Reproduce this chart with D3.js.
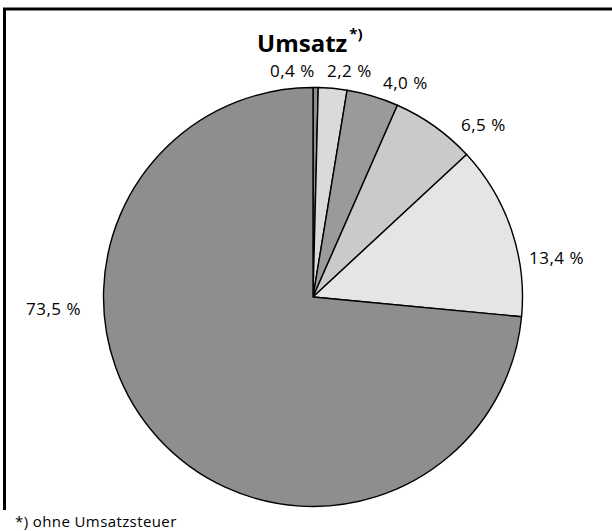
<!DOCTYPE html>
<html>
<head>
<meta charset="utf-8">
<script src="https://cdn.jsdelivr.net/npm/d3@7"></script>
<style>
  html, body { margin: 0; padding: 0; background: #fff; }
  svg { display: block; }
  text { font-family: "Open Sans", "Noto Sans", sans-serif; fill: #000; }
</style>
</head>
<body>
<svg id="chart" width="612" height="531"></svg>
<script>
// ---- data ----
const categories = ["A", "B", "C", "D", "E", "F"];
const shares = [0.4, 2.2, 4.0, 6.5, 13.4, 73.5];
const valueLabels = ["0,4 %", "2,2 %", "4,0 %", "6,5 %", "13,4 %", "73,5 %"];
const sliceColors = ["#8f8f8f", "#dadada", "#9a9a9a", "#cacaca", "#e5e5e5", "#8e8e8e"];
const title = "Umsatz";
const titleMark = "*)";
const footnote = "*) ohne Umsatzsteuer";

// ---- layout (label anchor positions, text-anchor start) ----
const labelPos = [[270, 77], [327, 77], [383, 89], [461, 131], [529, 264], [26, 315]];

const svg = d3.select("#chart");
const cx = 313, cy = 297, r = 209.5;

// frame
svg.append("path")
  .attr("d", "M4.5,510 L4.5,9 L612,9")
  .attr("fill", "none").attr("stroke", "#000").attr("stroke-width", 3);

const pie = d3.pie().sort(null).value(d => d)(shares);
const arc = d3.arc().innerRadius(0).outerRadius(r);

const g = svg.append("g").attr("transform", `translate(${cx},${cy})`);
g.selectAll("path.slice")
  .data(pie)
  .join("path")
  .attr("class", "slice")
  .attr("d", arc)
  .attr("fill", (d, i) => sliceColors[i])
  .attr("stroke", "#000")
  .attr("stroke-width", 1.4)
  .attr("stroke-linejoin", "round");

svg.selectAll("text.lbl")
  .data(valueLabels)
  .join("text")
  .attr("class", "lbl")
  .attr("x", (d, i) => labelPos[i][0])
  .attr("y", (d, i) => labelPos[i][1])
  .attr("font-size", 17)
  .attr("letter-spacing", 0.5)
  .text(d => d);

// title
const t = svg.append("text")
  .attr("x", 257).attr("y", 52)
  .attr("font-size", 24).attr("font-weight", "bold")
  .text(title);
t.append("tspan")
  .attr("dx", 2).attr("dy", -13)
  .attr("font-size", 15)
  .text(titleMark);

// footnote
svg.append("text")
  .attr("x", 15).attr("y", 527)
  .attr("font-size", 15)
  .attr("letter-spacing", 0.4)
  .text(footnote);
</script>
</body>
</html>
